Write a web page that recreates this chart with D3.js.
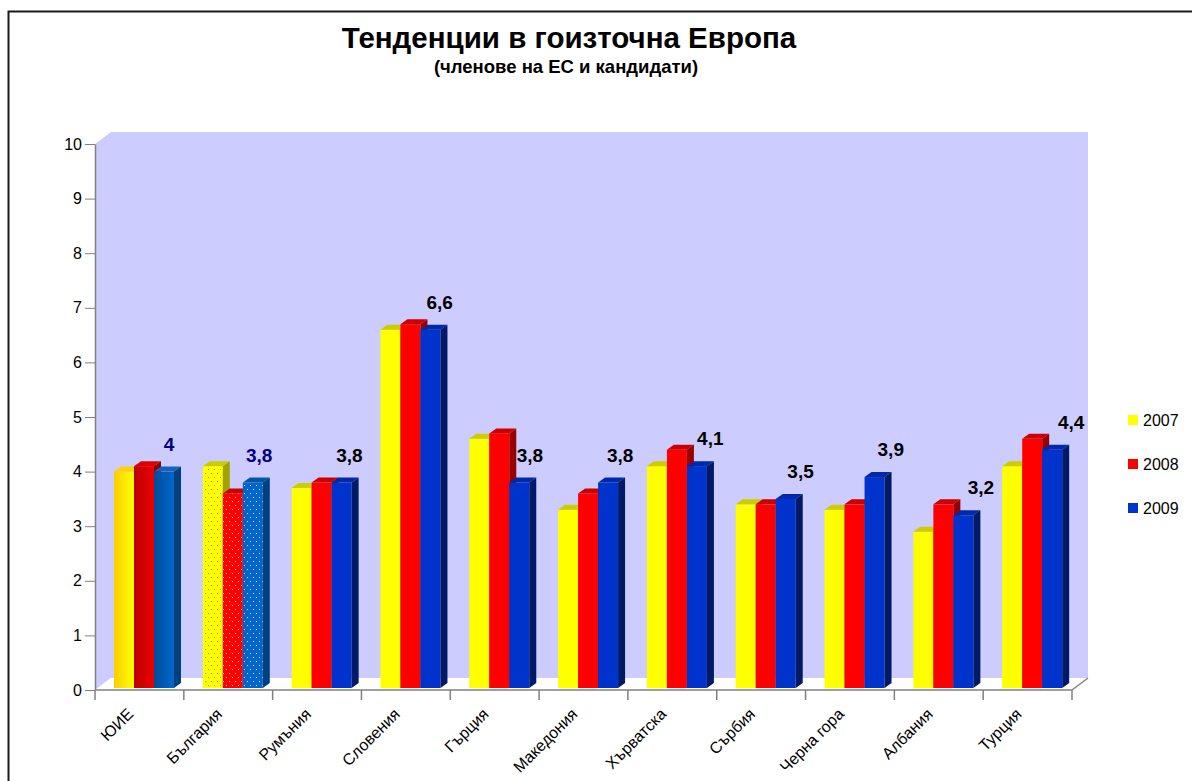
<!DOCTYPE html>
<html>
<head>
<meta charset="utf-8">
<script src="https://cdn.jsdelivr.net/npm/d3@7"></script>
<style>
  html, body { margin: 0; padding: 0; background: #fff; }
  svg { display: block; font-family: Arial, "Liberation Sans", sans-serif; }
</style>
</head>
<body>
<div id="chart"></div>
<script>
const CATEGORIES = ['ЮИЕ', 'България', 'Румъния', 'Словения', 'Гърция', 'Македония',
                    'Хърватска', 'Сърбия', 'Черна гора', 'Албания', 'Турция'];
const SERIES = ['2007', '2008', '2009'];

const VALUES_2007 = [4.0, 4.1, 3.7, 6.6, 4.6, 3.3, 4.1, 3.4, 3.3, 2.9, 4.1];
const VALUES_2008 = [4.1, 3.6, 3.8, 6.7, 4.7, 3.6, 4.4, 3.4, 3.4, 3.4, 4.6];
const VALUES_2009 = [4.0, 3.8, 3.8, 6.6, 3.8, 3.8, 4.1, 3.5, 3.9, 3.2, 4.4];
const LABELS_2009 = ['4', '3,8', '3,8', '6,6', '3,8', '3,8', '4,1', '3,5', '3,9', '3,2', '4,4'];

const Y_TICKS = [0, 1, 2, 3, 4, 5, 6, 7, 8, 9, 10];

const TITLE    = 'Тенденции в гоизточна Европа';
const SUBTITLE = '(членове на ЕС и кандидати)';

// colours: front / top / side per series
const PLAIN = {
  '2007': { front: '#FFFF00', top: '#CCCC00', side: '#999900' },
  '2008': { front: '#FF0000', top: '#CC0000', side: '#990000' },
  '2009': { front: '#0033CC', top: '#0028A8', side: '#001A66' },
};
const GRADIENT = {   // ЮИЕ group
  '2007': { from: '#FFCC00', to: '#FFFF00', top: '#FFD400', side: '#CCA300' },
  '2008': { from: '#BB0000', to: '#EE0000', top: '#DD0000', side: '#880000' },
  '2009': { from: '#004C99', to: '#0066CC', top: '#1462BE', side: '#00407F' },
};
const DOTTED = {     // България group
  '2007': { base: '#FFFF00', dot: '#8C8CC8', top: '#CCCC00', side: '#A3A300' },
  '2008': { base: '#FF0000', dot: '#FFD0D0', top: '#CC0000', side: '#990000' },
  '2009': { base: '#0066CC', dot: '#D8E6FF', top: '#0055AA', side: '#003F80' },
};

const W = 1192, H = 781;
const DX = 16, DY = 12;         // wall depth
const BDX = 7, BDY = 5;         // bar depth

const svg = d3.select('#chart').append('svg')
  .attr('width', W).attr('height', H);

const defs = svg.append('defs');

SERIES.forEach(s => {
  const g = defs.append('linearGradient').attr('id', 'grad' + s)
    .attr('x1', 0).attr('x2', 1).attr('y1', 0).attr('y2', 0);
  g.append('stop').attr('offset', 0).attr('stop-color', GRADIENT[s].from);
  g.append('stop').attr('offset', 1).attr('stop-color', GRADIENT[s].to);

  const p = defs.append('pattern').attr('id', 'dots' + s)
    .attr('patternUnits', 'userSpaceOnUse')
    .attr('width', 6).attr('height', 8);
  p.append('rect').attr('width', 6).attr('height', 8).attr('fill', DOTTED[s].base);
  p.append('rect').attr('x', 1).attr('y', 1).attr('width', 1).attr('height', 1).attr('fill', DOTTED[s].dot);
  p.append('rect').attr('x', 4).attr('y', 5).attr('width', 1).attr('height', 1).attr('fill', DOTTED[s].dot);
});

// outer border
svg.append('path')
  .attr('d', `M8.5,${H} V11.5 H${W}`)
  .attr('fill', 'none').attr('stroke', '#1a1a1a').attr('stroke-width', 2);

// ── Titles ────────────────────────────────────────────────────────────────
svg.append('text')
  .attr('x', 569).attr('y', 48)
  .attr('text-anchor', 'middle')
  .attr('font-size', '29.5px').attr('font-weight', 'bold')
  .text(TITLE);

svg.append('text')
  .attr('x', 566).attr('y', 73)
  .attr('text-anchor', 'middle')
  .attr('font-size', '18.5px').attr('font-weight', 'bold')
  .text(SUBTITLE);

// ── Scales ────────────────────────────────────────────────────────────────
const x = d3.scaleBand().domain(CATEGORIES).range([95, 1072]);
const xs = d3.scaleBand().domain(SERIES).range([19, 79]);
const y = d3.scaleLinear().domain([0, 10]).range([690, 144]);

const x0 = x.range()[0], x1 = x.range()[1];
const yBase = y(0), yTop = y(10);

// ── Walls & floor ─────────────────────────────────────────────────────────
svg.append('path')
  .attr('d', `M${x0},${yTop} L${x0 + DX},${yTop - DY} L${x1 + DX},${yTop - DY}
              L${x1 + DX},${yBase - DY} L${x0 + DX},${yBase - DY} L${x0},${yBase} Z`)
  .attr('fill', '#CCCCFF');

svg.append('path')
  .attr('d', `M${x0},${yBase} L${x0 + DX},${yBase - DY} L${x1 + DX},${yBase - DY} L${x1},${yBase} Z`)
  .attr('fill', '#FFFFFF');

svg.append('line')
  .attr('x1', x1).attr('y1', yBase).attr('x2', x1 + DX).attr('y2', yBase - DY)
  .attr('stroke', '#808080').attr('stroke-width', 1.5);

// ── Bars ──────────────────────────────────────────────────────────────────
const seriesValues = { '2007': VALUES_2007, '2008': VALUES_2008, '2009': VALUES_2009 };

const bars = [];
CATEGORIES.forEach((c, i) => {
  SERIES.forEach(s => bars.push({ cat: c, i, s, v: seriesValues[s][i] }));
});

function fills(d) {
  if (d.i === 0) return { front: `url(#grad${d.s})`, top: GRADIENT[d.s].top, side: GRADIENT[d.s].side };
  if (d.i === 1) return { front: `url(#dots${d.s})`, top: DOTTED[d.s].top, side: DOTTED[d.s].side };
  return PLAIN[d.s];
}

const bw = xs.bandwidth();
const barBottom = yBase - 2;

const barG = svg.append('g').selectAll('g')
  .data(bars)
  .join('g');

barG.append('rect')
  .attr('x', d => x(d.cat) + xs(d.s))
  .attr('y', d => y(d.v))
  .attr('width', bw)
  .attr('height', d => barBottom - y(d.v))
  .attr('fill', d => fills(d).front);

barG.append('path')
  .attr('d', d => {
    const bx = x(d.cat) + xs(d.s), by = y(d.v);
    return `M${bx},${by} L${bx + BDX},${by - BDY} L${bx + bw + BDX},${by - BDY} L${bx + bw},${by} Z`;
  })
  .attr('fill', d => fills(d).top);

barG.append('path')
  .attr('d', d => {
    const bx = x(d.cat) + xs(d.s) + bw, by = y(d.v);
    return `M${bx},${by} L${bx + BDX},${by - BDY} L${bx + BDX},${barBottom - BDY} L${bx},${barBottom} Z`;
  })
  .attr('fill', d => fills(d).side);

// ── Value labels (2009) ───────────────────────────────────────────────────
svg.append('g').selectAll('text')
  .data(CATEGORIES)
  .join('text')
  .attr('x', (c, i) => x(c) + xs('2009') + 15 + 1.4 * i)
  .attr('y', (c, i) => y(VALUES_2009[i]) - 21)
  .attr('text-anchor', 'middle')
  .attr('font-size', '19px').attr('font-weight', 'bold')
  .attr('fill', (c, i) => i < 2 ? '#000080' : '#000000')
  .text((c, i) => LABELS_2009[i]);

// ── Axes ──────────────────────────────────────────────────────────────────
const yAxis = svg.append('g')
  .attr('transform', `translate(${x0},0)`)
  .call(d3.axisLeft(y).tickValues(Y_TICKS).tickSize(10).tickPadding(3).tickSizeOuter(0));
yAxis.select('.domain').attr('stroke', '#808080').attr('stroke-width', 1.5);
yAxis.selectAll('.tick line').attr('stroke', '#808080');
yAxis.selectAll('.tick text')
  .attr('font-size', '16px').attr('font-family', 'Arial, "Liberation Sans", sans-serif')
  .attr('fill', '#000');

svg.append('line')
  .attr('x1', x0).attr('x2', x1).attr('y1', yBase).attr('y2', yBase)
  .attr('stroke', '#808080').attr('stroke-width', 1.5);

svg.append('g').selectAll('line')
  .data(CATEGORIES.map(c => x(c)).concat([x1]))
  .join('line')
  .attr('x1', d => d).attr('x2', d => d)
  .attr('y1', yBase).attr('y2', yBase + 10)
  .attr('stroke', '#808080').attr('stroke-width', 1.5);

svg.append('g').selectAll('text')
  .data(CATEGORIES)
  .join('text')
  .attr('transform', c => `translate(${x(c) + x.bandwidth() / 2 - 5},715) rotate(-45)`)
  .attr('text-anchor', 'end')
  .attr('font-size', '16px')
  .text(c => c);

// ── Legend ────────────────────────────────────────────────────────────────
const legend = svg.append('g').selectAll('g')
  .data(SERIES)
  .join('g')
  .attr('transform', (s, i) => `translate(1128,${415 + i * 44})`);

legend.append('rect')
  .attr('width', 10).attr('height', 10)
  .attr('fill', s => PLAIN[s].front);

legend.append('text')
  .attr('x', 15).attr('y', 10.5)
  .attr('font-size', '16px')
  .text(s => s);
</script>
</body>
</html>
